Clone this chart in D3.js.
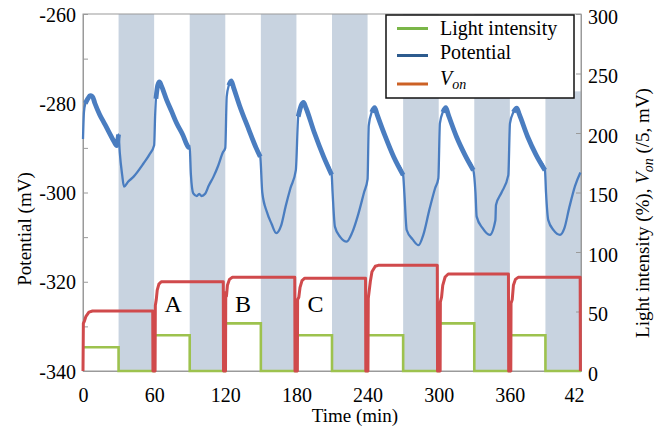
<!DOCTYPE html>
<html><head><meta charset="utf-8">
<script src="https://cdn.jsdelivr.net/npm/d3@7"></script>
<style>body{margin:0;background:#fff}svg{display:block}text{font-family:"Liberation Serif","Times New Roman",serif;fill:#000}</style>
</head><body><svg id="c" width="664" height="430"></svg>
<script>
// ---------- data ----------
const darkStart = [30, 90, 150, 210, 270, 330, 390];
const darkEnd   = [60, 120, 180, 240, 300, 360, 420];
const darkTop   = [300, 300, 300, 300, 300, 300, 235]; // right-axis units

const lightTime  = [0, 30, 60, 90, 120, 150, 180, 210, 240, 270, 300, 330, 360, 390, 420];
const lightValue = [20, 0, 30, 0, 40, 0, 30, 0, 30, 0, 40, 0, 30, 0, 0];

const vonTime = [
  0, 0.3, 1.2, 2.5, 5, 8, 58.8, 59,
  60.8, 61, 61.8, 62.6, 64, 66, 118.3, 118.5,
  120.2, 120.4, 121, 121.8, 123.5, 126, 178.6, 178.8,
  180.8, 181, 182, 183, 184.7, 187, 238.3, 238.5,
  240.3, 240.6, 242.3, 243.7, 246.5, 249, 298.8, 299,
  301.2, 301.4, 302.4, 303.4, 305.4, 308, 358.8, 359,
  360.8, 361, 362, 363, 364.7, 367, 419.3, 419.5
];
const vonValue = [
  0, 40, 42, 46, 49.5, 50.4, 50.4, 0,
  0, 55, 60, 68, 73, 75, 75, 0,
  0, 66, 63, 72, 77, 78.7, 78.7, 0,
  0, 60, 62, 70, 76, 78, 78, 0,
  0, 61, 75, 83.4, 88, 88.8, 88.8, 0,
  0, 58, 62, 72, 79, 81.5, 81.5, 0,
  0, 57, 60, 72, 77, 78.7, 78.7, 0
];

const potTime = [
  0, 0.8, 2, 4, 6, 8, 10, 14, 18, 22, 26, 28.5, 29.5, 30, 31, 33, 34.6, 38, 42.5, 51, 56, 60,
  60.8, 61.5, 63, 64.5, 66, 70.6, 75, 79, 84, 88.5, 90, 91, 93, 96, 98, 100, 103, 106, 110, 114, 118, 120,
  121.2, 123, 125, 127, 132, 140, 146, 149.5, 151.2, 155, 159, 163, 167, 171, 175, 179.5,
  181.5, 184, 186, 188, 195, 203, 209.7, 210.5, 212.5, 217, 222.4, 227, 232, 237, 240,
  241, 243.5, 246, 248, 255, 262, 270, 271, 273, 278, 283, 287, 292, 297, 299.7,
  301, 303.5, 306, 308, 315, 322, 329.2, 331, 332, 337, 343, 347.8, 348.3, 353, 358.7,
  360.1, 363, 365.8, 368, 375, 382, 389.6, 390.5, 392.4, 397, 402.3, 406, 410, 415, 419.5
];
const potValue = [
  -288, -282, -280, -279, -278.3, -278.5, -280, -282.5, -284.5, -286.5, -288.5, -289.5, -288, -287, -291, -296, -298.7, -297.6, -296.5, -293.5, -291.5, -289.4,
  -283, -279, -276, -275.2, -276, -279.3, -282, -284.5, -287, -289.7, -290, -296, -300.2, -300.8, -300.3, -300.8, -300.3, -298.5, -296.5, -294, -291, -290,
  -278.5, -276, -275, -276.5, -280.5, -286, -290, -292, -300, -304.3, -307, -309.1, -307.5, -303, -299, -295,
  -283, -280.5, -279.8, -281, -286.5, -292, -296, -300, -307.7, -310, -311, -309, -305, -300, -297,
  -285, -282, -281, -282.5, -287.5, -292, -296.1, -300, -308.4, -310.5, -311.8, -309.5, -304, -299, -296.8,
  -284.5, -282, -281, -282.5, -287.5, -291.5, -295, -300, -305.4, -308, -309.5, -306.2, -302.8, -300, -296.1,
  -284.5, -282, -281.1, -282.5, -287.5, -291.5, -295, -300, -306.2, -308.5, -309.5, -308, -303.5, -298.5, -295.5
];

const xTicks = [0, 60, 120, 180, 240, 300, 360, 420];
const xTickLabels = ["0", "60", "120", "180", "240", "300", "360", "42"];
const leftTicks = [-340, -330, -320, -310, -300, -290, -280, -270, -260];
const leftTickLabels = ["-340", "", "-320", "", "-300", "", "-280", "", "-260"];
const rightTicks = [0, 50, 100, 150, 200, 250, 300];
const rightTickLabels = ["0", "50", "100", "150", "200", "250", "300"];

const annText = ["A", "B", "C"];
const annTime = [76, 135, 196];
const annValue = [50, 50, 50];

const legendNames = ["Light intensity", "Potential", "V"];
const legendColors = ["#7ab648", "#2d5b8e", "#cc6125"];

// ---------- drawing ----------
const svg = d3.select("#c");
const x = d3.scaleLinear().domain([0, 420]).range([83, 581]);
const yL = d3.scaleLinear().domain([-340, -260]).range([371, 14]);
const yR = d3.scaleLinear().domain([0, 300]).range([371, 14]);

// dark bands
svg.append("g").selectAll("rect").data(darkStart).join("rect")
  .attr("x", (d) => x(d))
  .attr("width", (d, i) => x(darkEnd[i]) - x(d))
  .attr("y", (d, i) => yR(darkTop[i]))
  .attr("height", (d, i) => yR(0) - yR(darkTop[i]))
  .attr("fill", "#c8d3e0");

// frame
svg.append("rect").attr("x", x(0)).attr("y", yR(300)).attr("width", x(420) - x(0)).attr("height", yR(0) - yR(300))
  .attr("fill", "none").attr("stroke", "#9a9a9a").attr("stroke-width", 1);

// axes
const gl = svg.append("g").attr("transform", `translate(${x(0)},0)`)
  .call(d3.axisLeft(yL).tickValues(leftTicks).tickSize(-5).tickPadding(7)
    .tickFormat((d, i) => leftTickLabels[i]));
const gr = svg.append("g").attr("transform", `translate(${x(420)},0)`)
  .call(d3.axisRight(yR).tickValues(rightTicks).tickSize(-5).tickPadding(7)
    .tickFormat((d, i) => rightTickLabels[i]));
const gb = svg.append("g").attr("transform", `translate(0,${yR(0)})`)
  .call(d3.axisBottom(x).tickValues(xTicks).tickSize(0).tickPadding(17)
    .tickFormat((d, i) => xTickLabels[i]));
[gl, gr, gb].forEach(g => {
  g.attr("font-family", null);
  g.select(".domain").attr("stroke", "#9a9a9a");
  g.selectAll(".tick line").attr("stroke", "#9a9a9a");
  g.selectAll("text").attr("font-size", 20).attr("fill", "#000");
});
gl.selectAll(".tick text").attr("dy", "0.36em");
gr.selectAll(".tick text").attr("dy", "0.45em");
gb.selectAll(".tick text").filter((d) => d === 420).attr("dx", -7);

// light intensity
const lightData = lightTime.map((t, i) => [t, lightValue[i]]);
svg.append("path").datum(lightData)
  .attr("d", d3.line().x(d => x(d[0])).y(d => yR(d[1])).curve(d3.curveStepAfter))
  .attr("fill", "none").attr("stroke", "#9dc24e").attr("stroke-width", 2.6);

// V_on
const vonData = vonTime.map((t, i) => [t, vonValue[i]]);
svg.append("path").datum(vonData)
  .attr("d", d3.line().x(d => x(d[0])).y(d => yR(d[1])))
  .attr("fill", "none").attr("stroke", "#d04a4c").attr("stroke-width", 3).attr("stroke-linejoin", "round");

// potential
const potData = potTime.map((t, i) => [t, potValue[i]]);
const potLine = d3.line().x(d => x(d[0])).y(d => yL(d[1])).curve(d3.curveMonotoneX);
svg.append("path").datum(potData).attr("d", potLine)
  .attr("fill", "none").attr("stroke", "#4a7dc0").attr("stroke-width", 2.3).attr("stroke-linejoin", "round");
// noisy light-phase segments drawn thicker
const lightSegs = d3.range(0, 420, 60).map(t0 => potData.filter(d => d[0] >= t0 + 1.5 && d[0] <= t0 + 30.2));
svg.append("g").selectAll("path").data(lightSegs).join("path").attr("d", potLine)
  .attr("fill", "none").attr("stroke", "#4a7dc0").attr("stroke-width", 4.8).attr("stroke-linejoin", "round");

// annotations
svg.append("g").selectAll("text").data(annText).join("text")
  .attr("x", (d, i) => x(annTime[i])).attr("y", (d, i) => yR(annValue[i]))
  .attr("text-anchor", "middle").attr("font-size", 24).text(d => d);

// axis titles
svg.append("text").attr("transform", "translate(31,229) rotate(-90)").attr("text-anchor", "middle")
  .attr("font-size", 19).text("Potential (mV)");
const rt = svg.append("text").attr("transform", "translate(649,213) rotate(-90)").attr("text-anchor", "middle")
  .attr("font-size", 19);
rt.append("tspan").text("Light intensity (%), ");
rt.append("tspan").attr("font-style", "italic").text("V");
rt.append("tspan").attr("font-style", "italic").attr("font-size", 14).attr("dy", 4).text("on");
rt.append("tspan").attr("dy", -4).text(" (/5, mV)");
svg.append("text").attr("x", 355).attr("y", 422).attr("text-anchor", "middle").attr("font-size", 19).text("Time (min)");

// legend
const lg = svg.append("g");
lg.append("rect").attr("x", 386).attr("y", 15).attr("width", 188).attr("height", 83)
  .attr("fill", "#fff").attr("stroke", "#111").attr("stroke-width", 1.5);
const rowY = [28.5, 55.5, 84];
const rowBase = [34.5, 58.5, 85];
legendNames.forEach((n, i) => {
  lg.append("line").attr("x1", 397).attr("x2", 428).attr("y1", rowY[i]).attr("y2", rowY[i])
    .attr("stroke", legendColors[i]).attr("stroke-width", 3);
  const t = lg.append("text").attr("x", 440).attr("y", rowBase[i]).attr("font-size", 20);
  if (i === 2) {
    t.append("tspan").attr("font-style", "italic").text("V");
    t.append("tspan").attr("font-style", "italic").attr("font-size", 14).attr("dy", 4).text("on");
  } else t.text(n);
});
</script></body></html>
